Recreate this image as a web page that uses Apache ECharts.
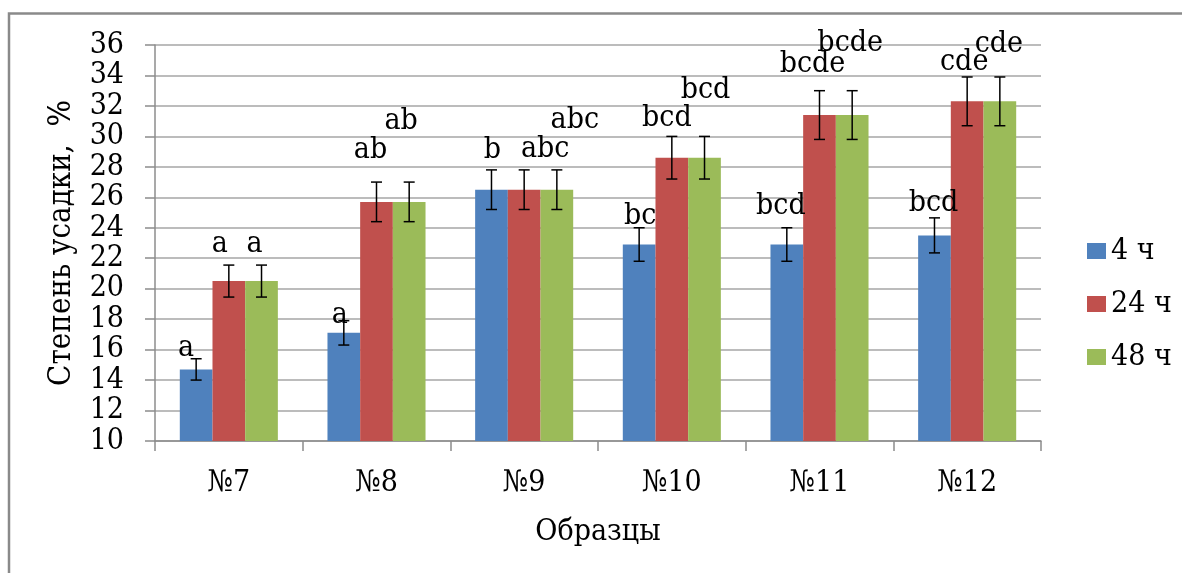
<!DOCTYPE html>
<html>
<head>
<meta charset="utf-8">
<script src="https://cdn.jsdelivr.net/npm/echarts@6/dist/echarts.min.js"></script>
<style>
  html, body { margin: 0; padding: 0; background: #fff; }
  #chart { width: 1182px; height: 573px; }
</style>
</head>
<body>
<div id="chart"></div>
<script>
// Samples and shrinkage degree (%) after 4, 24 and 48 hours
const categories = ['№7', '№8', '№9', '№10', '№11', '№12'];
const seriesNames = ['4 ч', '24 ч', '48 ч'];
const yTicks = [10, 12, 14, 16, 18, 20, 22, 24, 26, 28, 30, 32, 34, 36];

const shrink4 = [14.7, 17.1, 26.5, 22.9, 22.9, 23.5];
const shrink24 = [20.5, 25.7, 26.5, 28.6, 31.4, 32.3];
const shrink48 = [20.5, 25.7, 26.5, 28.6, 31.4, 32.3];

// standard deviations shown as error bars
const err4 = [0.7, 0.8, 1.3, 1.1, 1.1, 1.15];
const err24 = [1.05, 1.3, 1.3, 1.4, 1.6, 1.6];
const err48 = [1.05, 1.3, 1.3, 1.4, 1.6, 1.6];

// significance groups
const letters4 = ['a', 'a', 'b', 'bc', 'bcd', 'bcd'];
const letters24 = ['a', 'ab', 'abc', 'bcd', 'bcde', 'cde'];
const letters48 = ['a', 'ab', 'abc', 'bcd', 'bcde', 'cde'];

// label placement: [dx, height above bar top] in px
const labelShift4 = [[-10, 21], [-4, 18], [1, 39], [1, 28], [-6, 38], [-1, 32]];
const labelShift24 = [[-9, 37], [-6, 52], [21, 40], [-5, 40], [-7, 51], [-3, 39]];
const labelShift48 = [[-7, 37], [-8, 81], [18, 69], [1, 68], [-2, 72], [-1, 57]];

const colors = ['#4F81BD', '#C0504D', '#9BBB59'];
const FONT = '"DejaVu Serif Condensed", "DejaVu Serif", serif';
const FS = 30;
const GAP = 0.336;

const values = [shrink4, shrink24, shrink48];
const errors = [err4, err24, err48];
const letters = [letters4, letters24, letters48];
const shifts = [labelShift4, labelShift24, labelShift48];

const markData = [];
values.forEach((arr, s) => {
  arr.forEach((v, i) => {
    markData.push([i, v, errors[s][i], s, letters[s][i], shifts[s][i][0], shifts[s][i][1]]);
  });
});

// error bars and significance letters, placed next to each bar
function renderMarks(params, api) {
  const idx = api.value(0), v = api.value(1), e = api.value(2), s = api.value(3);
  const catW = api.size([1, 0])[0];
  const bw = catW * (1 - GAP) / 3;
  const base = api.coord([idx, v]);
  const x = base[0] + (s - 1) * bw;
  const yTop = api.coord([idx, v + e])[1];
  const yBot = api.coord([idx, v - e])[1];
  const cap = 5.5;
  const ls = { stroke: '#000', lineWidth: 1.5 };
  const dx = api.value(5), dy = api.value(6);
  return {
    type: 'group',
    children: [
      { type: 'line', shape: { x1: x, y1: yTop, x2: x, y2: yBot }, style: ls },
      { type: 'line', shape: { x1: x - cap, y1: yTop, x2: x + cap, y2: yTop }, style: ls },
      { type: 'line', shape: { x1: x - cap, y1: yBot, x2: x + cap, y2: yBot }, style: ls },
      {
        type: 'text',
        style: {
          text: markData[params.dataIndex][4],
          x: x + dx, y: base[1] - dy,
          font: FS + 'px ' + FONT, fill: '#000',
          align: 'center', verticalAlign: 'middle'
        }
      }
    ]
  };
}

const chart = echarts.init(document.getElementById('chart'), null, { renderer: 'canvas' });
chart.setOption({
  animation: false,
  backgroundColor: '#fff',
  textStyle: { fontFamily: FONT },
  graphic: [{
    type: 'rect',
    shape: { x: 9, y: 13.5, width: 1400, height: 800 },
    style: { fill: 'none', stroke: '#8a8a8a', lineWidth: 2.5 },
    silent: true
  }],
  grid: { left: 155, right: 141, top: 45, bottom: 132, containLabel: false },
  legend: {
    data: seriesNames,
    orient: 'vertical',
    left: 1082,
    top: 230,
    itemWidth: 19,
    itemHeight: 16,
    itemGap: 21,
    icon: 'rect',
    textStyle: { fontFamily: FONT, fontSize: FS, color: '#000', lineHeight: 32 }
  },
  xAxis: {
    type: 'category',
    data: categories,
    name: 'Образцы',
    nameLocation: 'middle',
    nameGap: 76,
    nameTextStyle: { fontFamily: FONT, fontSize: FS, color: '#000' },
    axisLine: { lineStyle: { color: '#8c8c8c', width: 1.5 } },
    axisTick: { show: true, length: 10, lineStyle: { color: '#8c8c8c', width: 1.5 } },
    axisLabel: { fontFamily: FONT, fontSize: FS, color: '#000', margin: 27 },
    splitLine: { show: false }
  },
  yAxis: {
    type: 'value',
    min: yTicks[0],
    max: yTicks[yTicks.length - 1],
    interval: 2,
    name: 'Степень усадки,  %',
    nameLocation: 'middle',
    nameGap: 78,
    nameTextStyle: { fontFamily: FONT, fontSize: 31, color: '#000' },
    axisLine: { show: true, lineStyle: { color: '#8c8c8c', width: 1.5 } },
    axisTick: { show: true, length: 10, lineStyle: { color: '#8c8c8c', width: 1.5 } },
    axisLabel: {
      fontFamily: FONT, fontSize: FS, lineHeight: 14, color: '#000', margin: 31,
      showMinLabel: true, showMaxLabel: true, hideOverlap: false
    },
    splitLine: { show: true, lineStyle: { color: '#a6a6a6', width: 1.5 } }
  },
  series: [
    ...seriesNames.map((name, s) => ({
      name: name,
      type: 'bar',
      data: values[s],
      barGap: '0%',
      barCategoryGap: (GAP * 100) + '%',
      itemStyle: { color: colors[s] },
      z: 2
    })),
    {
      type: 'custom',
      name: 'marks',
      data: markData,
      renderItem: renderMarks,
      clip: false,
      z: 5,
      silent: true
    }
  ]
});
</script>
</body>
</html>
